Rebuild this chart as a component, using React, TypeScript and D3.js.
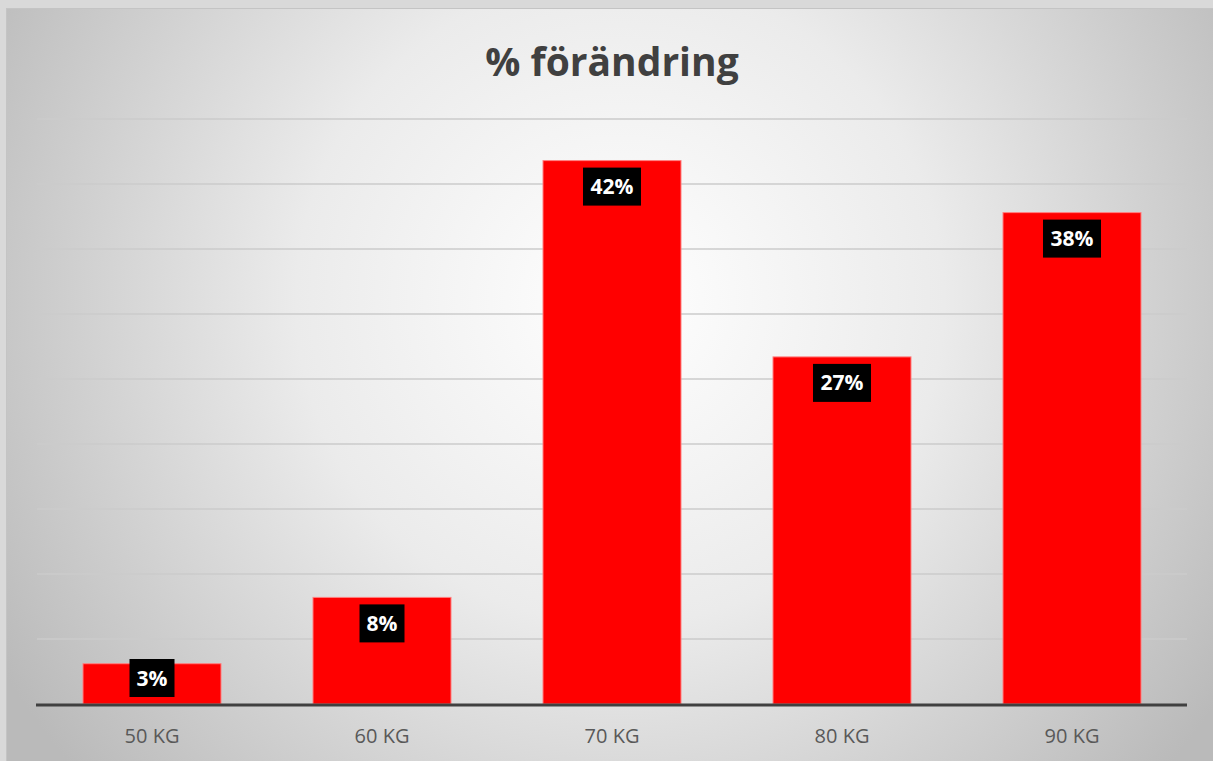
import React from "react";
import * as d3 from "d3";

const categories = ["50 KG", "60 KG", "70 KG", "80 KG", "90 KG"];
const values = [3.1, 8.2, 41.8, 26.7, 37.8];
const labels = ["3%", "8%", "42%", "27%", "38%"];
const yTicks = [0, 5, 10, 15, 20, 25, 30, 35, 40, 45];
const title = "% förändring";

const W = 1213;
const H = 761;
const plot = { left: 37, right: 1187, top: 119, bottom: 704 };

export default function App() {
  const x = d3
    .scaleBand<string>()
    .domain(categories)
    .range([plot.left, plot.right])
    .paddingInner(0.4)
    .paddingOuter(0.2);
  const y = d3.scaleLinear().domain([0, 45]).range([plot.bottom, plot.top]);

  return (
    <svg
      width={W}
      height={H}
      style={{ position: "absolute", left: 0, top: 0 }}
      fontFamily="'Open Sans', sans-serif"
    >
      <defs>
        <radialGradient id="bg" cx="620" cy="300" r="720" gradientUnits="userSpaceOnUse">
          <stop offset="0" stopColor="#ffffff" />
          <stop offset="0.45" stopColor="#ebebeb" />
          <stop offset="1" stopColor="#bababa" />
        </radialGradient>
      </defs>
      <rect x={0} y={0} width={W} height={H} fill="#d9d9d9" />
      <rect x={6.5} y={8.5} width={W - 6} height={H - 8} fill="url(#bg)" stroke="#c4c4c4" strokeWidth={1} />
      <text
        x={612}
        y={76}
        textAnchor="middle"
        fontSize={39}
        fontWeight={700}
        fill="#404040"
      >
        {title}
      </text>
      {yTicks.slice(1).map((t) => (
        <line
          key={t}
          x1={plot.left}
          x2={plot.right}
          y1={y(t)}
          y2={y(t)}
          stroke="#cbcbcb"
          strokeWidth={1.5}
        />
      ))}
      {categories.map((c, i) => {
        const bx = x(c)!;
        const bw = x.bandwidth();
        const top = y(values[i]);
        const cy = Math.min(top + 26, plot.bottom - 26);
        const boxW = labels[i].length * 13 + 19;
        return (
          <g key={c}>
            <rect
              x={bx}
              y={top}
              width={bw}
              height={plot.bottom - top}
              fill="#ff0000"
              stroke="#ff8080"
              strokeWidth={1}
            />
            <rect x={bx + bw / 2 - boxW / 2} y={cy - 19} width={boxW} height={38} fill="#000" />
            <text
              x={bx + bw / 2}
              y={cy}
              dy="0.36em"
              textAnchor="middle"
              fontSize={21}
              fontWeight={700}
              fill="#ffffff"
            >
              {labels[i]}
            </text>
            <text
              x={bx + bw / 2}
              y={736}
              dy="0.36em"
              textAnchor="middle"
              fontSize={20}
              fill="#595959"
            >
              {c}
            </text>
          </g>
        );
      })}
      <line
        x1={plot.left - 1}
        x2={plot.right}
        y1={plot.bottom + 1}
        y2={plot.bottom + 1}
        stroke="#404040"
        strokeWidth={3}
      />
    </svg>
  );
}
